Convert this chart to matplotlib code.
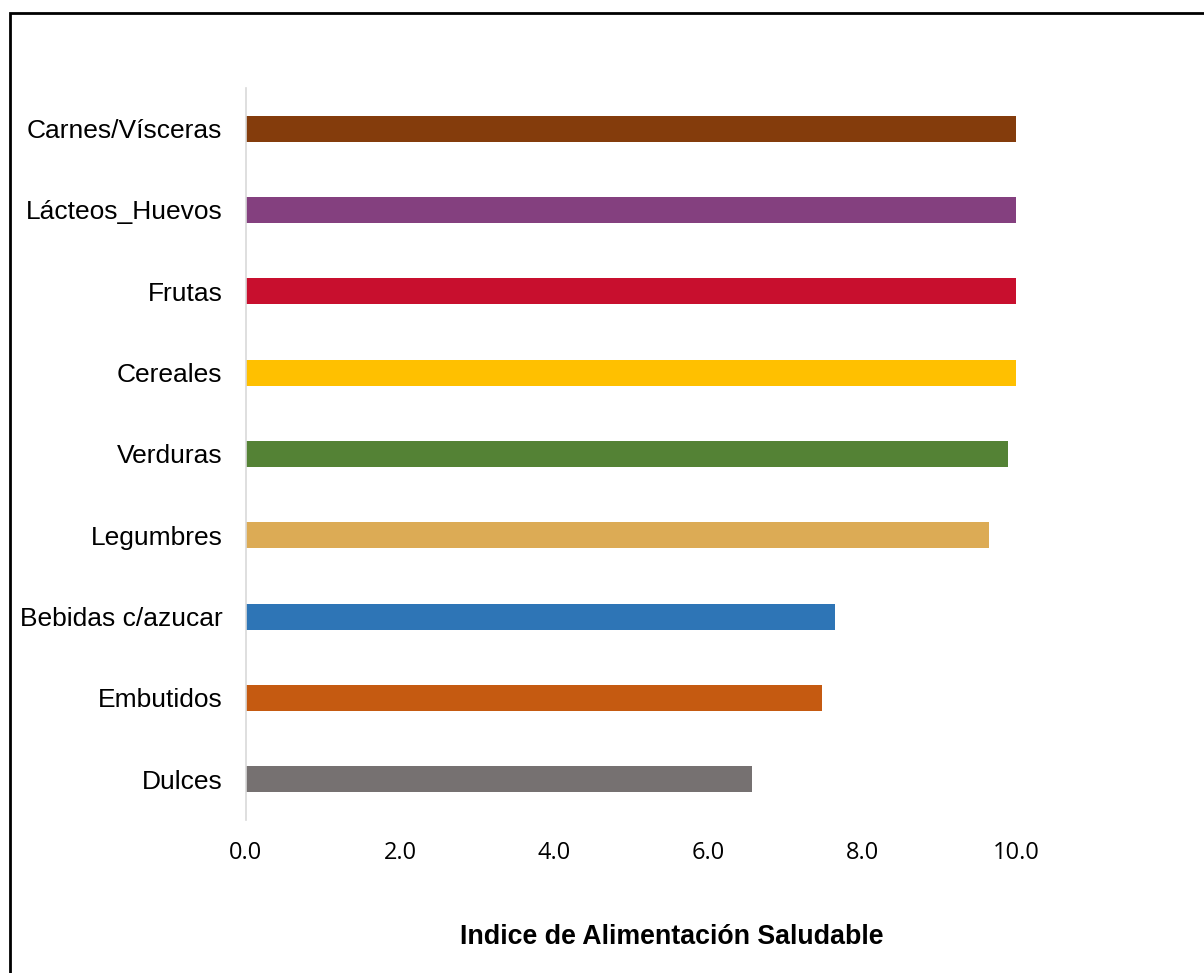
import matplotlib
matplotlib.use("Agg")
import matplotlib.pyplot as plt
from matplotlib.patches import Rectangle

# data, bottom to top
categories = ["Dulces", "Embutidos", "Bebidas c/azucar", "Legumbres", "Verduras",
              "Cereales", "Frutas", "Lácteos_Huevos", "Carnes/Vísceras"]
values = [6.57, 7.48, 7.65, 9.65, 9.9, 10.0, 10.0, 10.0, 10.0]
colors = ["#767171", "#C55A11", "#2E75B6", "#DCAB55", "#548235",
          "#FFC000", "#C80F2E", "#84407F", "#843C0C"]
xticks = [0, 2, 4, 6, 8, 10]

fig = plt.figure(figsize=(12.04, 9.73), dpi=100)
ax = fig.add_axes([0.2043, 0.1573, 0.6396, 0.7523])

ax.barh(range(len(categories)), values, height=0.32, color=colors)

ax.set_xlim(0, 10)
ax.set_ylim(-0.5, 8.5)
ax.set_yticks(range(len(categories)))
ax.set_yticklabels(categories, family="Liberation Sans", fontsize=19)
ax.set_xticks(xticks)
ax.set_xticklabels([f"{v:.1f}" for v in xticks], family="Open Sans", fontsize=17)
ax.tick_params(length=0)
ax.tick_params(axis="x", pad=15)
ax.tick_params(axis="y", pad=17)

for s in ["top", "right", "bottom"]:
    ax.spines[s].set_visible(False)
ax.spines["left"].set_color("#D9D9D9")
ax.spines["left"].set_linewidth(1.2)

fig.text(0.558, 0.037, "Indice de Alimentación Saludable", ha="center", va="center",
         family="Liberation Sans", fontsize=19.3, fontweight="bold")

# outer frame (open on the right and bottom)
fig.patches.append(Rectangle((9.5 / 1204, -0.01), 1.05, 1 - 12.5 / 973 + 0.01,
                             transform=fig.transFigure, fill=False,
                             edgecolor="black", linewidth=2))

fig.savefig("out.png", dpi=100)
